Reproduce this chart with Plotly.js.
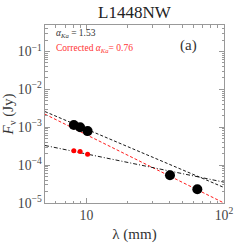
<!DOCTYPE html>
<html><head><meta charset="utf-8">
<script src="https://cdn.plot.ly/plotly-3.0.1.min.js"></script>
<style>html,body{margin:0;padding:0;background:#fff}#c{width:249px;height:249px}</style>
</head><body><div id="c"></div>
<script>
// Measured fluxes
var bigWave = [8.1, 9.0, 10.2, 40.5, 64];
var bigFlux = [1.15e-3, 1.0e-3, 0.79e-3, 5.4e-5, 2.3e-5];
var corrWave = [8.1, 9.0, 10.2];
var corrFlux = [2.4e-4, 2.3e-4, 1.95e-4];
// Fit lines (endpoints)
var fitWave = [5, 100];
var fitAll = [2.59e-3, 2.57e-5];
var fitDust = [2.21e-3, 1.0e-5];
var fitCorr = [3.3e-4, 3.55e-5];

var font = 'Liberation Serif, serif';
var traces = [
  {x: fitWave, y: fitAll, mode: 'lines', line: {color: '#000', width: 0.9, dash: '3px,2px'}},
  {x: fitWave, y: fitDust, mode: 'lines', line: {color: '#ff0000', width: 0.9, dash: '3px,2px'}},
  {x: fitWave, y: fitCorr, mode: 'lines', line: {color: '#000', width: 0.9, dash: '4px,2px,1px,2px'}},
  {x: bigWave, y: bigFlux, mode: 'markers', marker: {color: '#000', size: 10}},
  {x: corrWave, y: corrFlux, mode: 'markers', marker: {color: '#ff0000', size: 5}}
];
var ax = {
  type: 'log', showgrid: false, zeroline: false,
  showline: true, linecolor: '#999', linewidth: 1, mirror: 'ticks',
  ticks: 'inside', ticklen: 5, tickcolor: '#999',
  minor: {ticks: 'inside', ticklen: 2.5, tickcolor: '#999'},
  exponentformat: 'power', tickfont: {family: font, size: 11, color: '#444'}
};
var layout = {
  width: 249, height: 249,
  margin: {l: 45, r: 25, t: 25, b: 46},
  paper_bgcolor: '#fff', plot_bgcolor: '#fff',
  showlegend: false,
  title: {text: 'L1448NW', font: {family: font, size: 17, color: '#222'}, x: 0.54, xanchor: 'center', y: 0.975, yanchor: 'top'},
  xaxis: Object.assign({}, ax, {range: [Math.log10(5), 2], dtick: 1,
    title: {text: 'λ (mm)', font: {family: font, size: 15, color: '#333'}, standoff: 6}}),
  yaxis: Object.assign({}, ax, {range: [-5, Math.log10(0.5)], dtick: 1,
    title: {text: '<i>F</i><sub>ν</sub> (Jy)', font: {family: font, size: 15, color: '#333'}, standoff: 4}}),
  annotations: [
    {xref: 'paper', yref: 'paper', x: 0.05, y: 0.95, xanchor: 'left', yanchor: 'middle', showarrow: false,
     text: '<i>α<sub>Ka</sub></i> = 1.53', font: {family: font, size: 9.5, color: '#333'}},
    {xref: 'paper', yref: 'paper', x: 0.05, y: 0.87, xanchor: 'left', yanchor: 'middle', showarrow: false,
     text: 'Corrected <i>α<sub>Ka</sub></i>= 0.76', font: {family: font, size: 9.5, color: '#ff3333'}},
    {xref: 'paper', yref: 'paper', x: 0.8, y: 0.885, xanchor: 'center', yanchor: 'middle', showarrow: false,
     text: '(a)', font: {family: font, size: 15, color: '#333'}}
  ]
};
Plotly.newPlot('c', traces, layout, {displayModeBar: false, staticPlot: true});
</script></body></html>
